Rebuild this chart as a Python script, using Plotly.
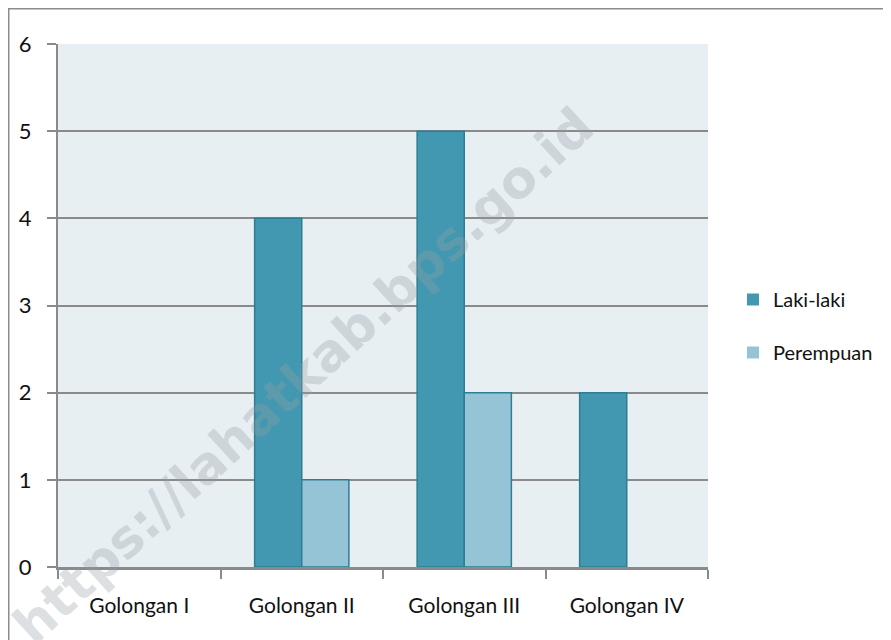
import plotly.graph_objects as go

categories = ["Golongan I", "Golongan II", "Golongan III", "Golongan IV"]
laki_laki = [0, 4, 5, 2]
perempuan = [0, 1, 2, 0]
y_ticks = [0, 1, 2, 3, 4, 5, 6]

FONT = "Lato, Carlito, 'Open Sans', sans-serif"
EDGE = "#2F7D93"

fig = go.Figure()
fig.add_trace(go.Bar(
    x=categories, y=laki_laki, name="Laki-laki", legendgroup="a",
    marker=dict(color="#4198B0",
                line=dict(color=EDGE, width=[1.5 if v else 0 for v in laki_laki])),
))
fig.add_trace(go.Bar(
    x=categories, y=perempuan, name="Perempuan", legendgroup="b",
    marker=dict(color="#94C4D6",
                line=dict(color=EDGE, width=[1.5 if v else 0 for v in perempuan])),
))

OFF = 8  # page body margin
W, H = 891 - OFF, 640 - OFF
L, R, T, B = 58 - OFF, 708 - OFF, 44 - OFF, 567 - OFF


def px(x):
    return (x - OFF - L) / (R - L)


def py(y):
    return (B - (y - OFF)) / (B - T)


fig.update_layout(
    width=W, height=H,
    margin=dict(l=L, r=W - R, t=T, b=H - B, autoexpand=False),
    paper_bgcolor="white",
    plot_bgcolor="#E8EFF3",
    barmode="group",
    bargap=0.42,
    bargroupgap=0,
    font=dict(family=FONT, size=21, color="#111111"),
    showlegend=True,
    legend=dict(
        x=px(733), y=py(326), xanchor="left", yanchor="middle",
        traceorder="grouped", tracegroupgap=24,
        font=dict(family=FONT, size=20, color="#111111"),
        itemwidth=30, bgcolor="rgba(0,0,0,0)",
    ),
    xaxis=dict(
        showgrid=False, showline=True, linecolor="#8A8A8A", linewidth=2.5,
        ticks="outside", ticklen=9, tickcolor="#8A8A8A", tickwidth=1.5,
        tickson="boundaries", ticklabelstandoff=18,
        tickfont=dict(family=FONT, size=21, color="#111111"),
        zeroline=False,
    ),
    yaxis=dict(
        range=[0, 6], tickvals=y_ticks,
        showgrid=True, gridcolor="#8A8A8A", gridwidth=2,
        showline=True, linecolor="#8A8A8A", linewidth=2,
        ticks="outside", ticklen=9, tickcolor="#8A8A8A", tickwidth=1.5,
        ticklabelstandoff=11,
        tickfont=dict(family=FONT, size=22, color="#111111"),
        zeroline=False,
    ),
    shapes=[dict(
        type="rect", xref="paper", yref="paper",
        x0=px(8.5), x1=px(940), y0=py(700), y1=py(8.5),
        line=dict(color="#8C8C8C", width=2), fillcolor="rgba(0,0,0,0)",
        layer="below",
    )],
    annotations=[dict(
        text="https://lahatkab.bps.go.id", xref="paper", yref="paper",
        x=px(303), y=py(376), showarrow=False, textangle=-42.5,
        font=dict(family="'DejaVu Sans', Arial, sans-serif", size=52,
                  color="rgba(150,160,165,0.32)", weight="bold"),
    )],
)

fig.write_html("out.html")
